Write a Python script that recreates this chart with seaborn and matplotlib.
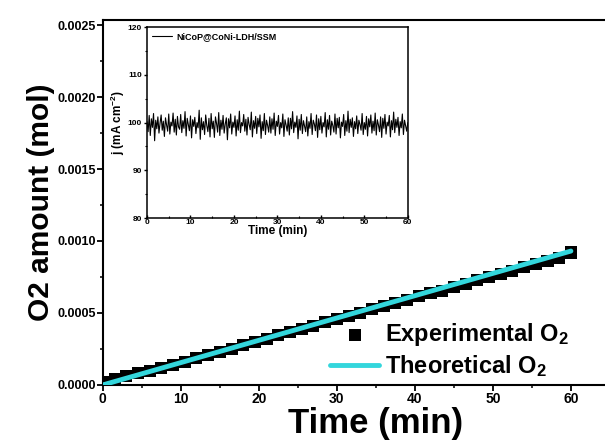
import numpy as np
import pandas as pd
import matplotlib
matplotlib.use("Agg")
import matplotlib.pyplot as plt
import seaborn as sns
from matplotlib.ticker import MultipleLocator

# estilo
sns.set_theme(style="ticks")
plt.rcParams["font.family"] = ["Liberation Sans", "DejaVu Sans"]
plt.rcParams["font.weight"] = "bold"
plt.rcParams["mathtext.fontset"] = "custom"
plt.rcParams["mathtext.rm"] = "Liberation Sans:bold"
plt.rcParams["mathtext.bf"] = "Liberation Sans:bold"
plt.rcParams["mathtext.default"] = "bf"
for k in ["text.color", "axes.labelcolor", "xtick.color", "ytick.color", "axes.edgecolor"]:
    plt.rcParams[k] = "black"

# dados principais
t_exp = [0, 1.5, 3, 4.5, 6, 7.5, 9, 10.5, 12, 13.5, 15, 16.5, 18, 19.5, 21, 22.5,
         24, 25.5, 27, 28.5, 30, 31.5, 33, 34.5, 36, 37.5, 39, 40.5, 42, 43.5, 45,
         46.5, 48, 49.5, 51, 52.5, 54, 55.5, 57, 58.5, 60]
o2_exp = [0.00002, 0.00004, 0.00006, 0.00008, 0.00010, 0.00012, 0.00014, 0.00016,
          0.00019, 0.00021, 0.00023, 0.00025, 0.00028, 0.00030, 0.00032, 0.00035,
          0.00037, 0.00039, 0.00041, 0.00044, 0.00046, 0.00048, 0.00050, 0.00053,
          0.00055, 0.00057, 0.00059, 0.00062, 0.00064, 0.00065, 0.00068, 0.00070,
          0.00073, 0.00075, 0.00077, 0.00079, 0.00082, 0.00084, 0.00086, 0.00088,
          0.00092]
t_theo = [0, 60]
o2_theo = [0.0, 0.00093]

# inset: densidade de corrente
j_vals = [100.2, 98.1, 101.5, 97.3, 100.8, 99.0, 101.9, 96.2, 100.5, 98.7,
          101.2, 97.8, 99.9, 101.6, 98.4, 100.3, 97.1, 101.0, 99.5, 98.2,
          101.8, 97.6, 100.1, 99.3, 102.0, 98.0, 100.7, 97.4, 101.3, 99.1,
          98.6, 101.7, 97.9, 100.4, 98.8, 102.3, 97.2, 100.9, 99.6, 98.3,
          101.4, 96.8, 100.6, 99.2, 101.1, 97.7, 100.0, 98.9, 102.6, 96.5,
          101.0, 98.5, 100.2, 97.5, 101.6, 99.4, 98.1, 100.9, 97.0, 101.9,
          98.7, 100.3, 96.9, 101.2, 99.8, 98.0, 102.1, 97.3, 100.5, 98.6,
          101.5, 97.8, 99.7, 101.0, 96.4, 100.8, 98.9, 101.8, 97.6, 100.1,
          99.0, 101.4, 97.2, 100.6, 98.4, 102.4, 97.9, 100.0, 99.3, 101.7,
          98.2, 100.7, 97.4, 101.1, 99.6, 98.5, 102.2, 97.0, 100.4, 98.8,
          101.3, 97.7, 100.9, 99.1, 101.6, 96.7, 100.2, 98.3, 101.9, 97.5,
          100.5, 99.4, 98.0, 101.2, 97.8, 100.8, 98.6, 102.0, 97.3, 100.3,
          99.2, 101.5, 97.6, 100.0, 98.9, 101.8, 97.1, 100.6, 99.5, 98.2,
          101.0, 97.4, 100.9, 98.7, 102.3, 97.9, 100.1, 99.0, 101.4, 96.6,
          100.7, 98.4, 101.7, 97.7, 100.4, 99.3, 98.1, 101.2, 97.2, 100.2,
          98.8, 101.9, 97.5, 100.5, 99.7, 98.3, 101.6, 96.9, 100.8, 98.5,
          101.3, 97.8, 100.0, 99.1, 102.1, 97.0, 100.6, 98.6, 101.5, 97.4,
          100.3, 99.4, 98.0, 101.8, 97.6, 100.9, 98.9, 101.1, 96.8, 100.1,
          99.2, 101.7, 97.3, 100.4, 98.2, 102.4, 97.9, 100.7, 99.0, 101.0,
          97.1, 100.2, 98.7, 101.4, 97.7, 100.5, 99.6, 98.4, 101.9, 97.5,
          100.0, 98.6, 101.3, 97.2, 100.8, 99.1, 101.6, 97.8, 100.3, 98.3,
          102.0, 97.4, 100.6, 99.5, 98.1, 101.2, 96.9, 100.9, 98.8, 101.7,
          97.6, 100.1, 99.3, 101.5, 97.0, 100.4, 98.5, 102.2, 97.9, 100.7,
          99.0, 101.1, 97.3, 100.2, 98.9, 101.8, 97.5, 100.5, 99.4, 98.2,
          100.0]
t_j = np.linspace(0, 60, len(j_vals))

df_exp = pd.DataFrame({"t": t_exp, "o2": o2_exp})
df_theo = pd.DataFrame({"t": t_theo, "o2": o2_theo})
df_j = pd.DataFrame({"t": t_j, "j": j_vals})

fig = plt.figure(figsize=(6.05, 4.45), dpi=100)
ax = fig.add_axes([0.170, 0.135, 0.90, 0.82])

sns.scatterplot(data=df_exp, x="t", y="o2", ax=ax, marker="s", s=75, color="black",
                edgecolor="none", label="Experimental O$_2$", zorder=2)
sns.lineplot(data=df_theo, x="t", y="o2", ax=ax, color="#33D6DC", linewidth=3.5,
             label="Theoretical O$_2$", zorder=3)

ax.set_xlim(0, 69.8)
ax.set_ylim(0, 0.002535)
ax.xaxis.set_major_locator(MultipleLocator(10))
ax.xaxis.set_minor_locator(MultipleLocator(5))
ax.yaxis.set_major_locator(MultipleLocator(0.0005))
ax.yaxis.set_minor_locator(MultipleLocator(0.00025))
ax.yaxis.set_major_formatter(matplotlib.ticker.FormatStrFormatter("%.4f"))
ax.set_xticks([0, 10, 20, 30, 40, 50, 60])
ax.tick_params(which="major", direction="out", length=4, width=1.3, labelsize=9, pad=1)
ax.tick_params(which="minor", direction="out", length=2.5, width=1.1)
for lab in ax.get_xticklabels() + ax.get_yticklabels():
    lab.set_fontweight("bold")
ax.tick_params(axis="x", labelsize=10)
for sp in ax.spines.values():
    sp.set_linewidth(1.5)
ax.spines["right"].set_visible(False)
ax.set_xlabel("Time (min)", fontsize=25, fontweight="bold", labelpad=1)
ax.set_ylabel("O2 amount (mol)", fontsize=21.5, fontweight="bold", labelpad=2)

leg = ax.legend(loc="center left", bbox_to_anchor=(318 / 605, 1 - 350 / 445),
                bbox_transform=fig.transFigure, frameon=False, borderpad=0,
                prop={"size": 17, "weight": "bold"}, handlelength=2.1,
                handletextpad=0.25, labelspacing=0.2)

# inset
axi = fig.add_axes([0.243, 0.510, 0.431, 0.429])
sns.lineplot(data=df_j, x="t", y="j", ax=axi, color="black", linewidth=0.8,
             label="NiCoP@CoNi-LDH/SSM")
axi.set_xlim(0, 60)
axi.set_ylim(80, 120)
axi.xaxis.set_major_locator(MultipleLocator(10))
axi.xaxis.set_minor_locator(MultipleLocator(5))
axi.yaxis.set_major_locator(MultipleLocator(10))
axi.yaxis.set_minor_locator(MultipleLocator(5))
axi.tick_params(which="major", direction="out", length=2.5, width=1, labelsize=6, pad=1)
axi.tick_params(which="minor", direction="out", length=1.5, width=0.8)
axi.tick_params(axis="x", which="both", direction="in")
for lab in axi.get_xticklabels() + axi.get_yticklabels():
    lab.set_fontweight("bold")
for sp in axi.spines.values():
    sp.set_linewidth(1.1)
axi.set_xlabel("Time (min)", fontsize=8.5, fontweight="bold", labelpad=-1)
axi.set_ylabel("j (mA cm$^{-2}$)", fontsize=8.5, fontweight="bold", labelpad=1)
axi.legend(loc="upper left", frameon=False, prop={"size": 6.5, "weight": "bold"},
           handlelength=2.2, handletextpad=0.4, borderaxespad=0.2)

fig.savefig("out.png", dpi=100)
